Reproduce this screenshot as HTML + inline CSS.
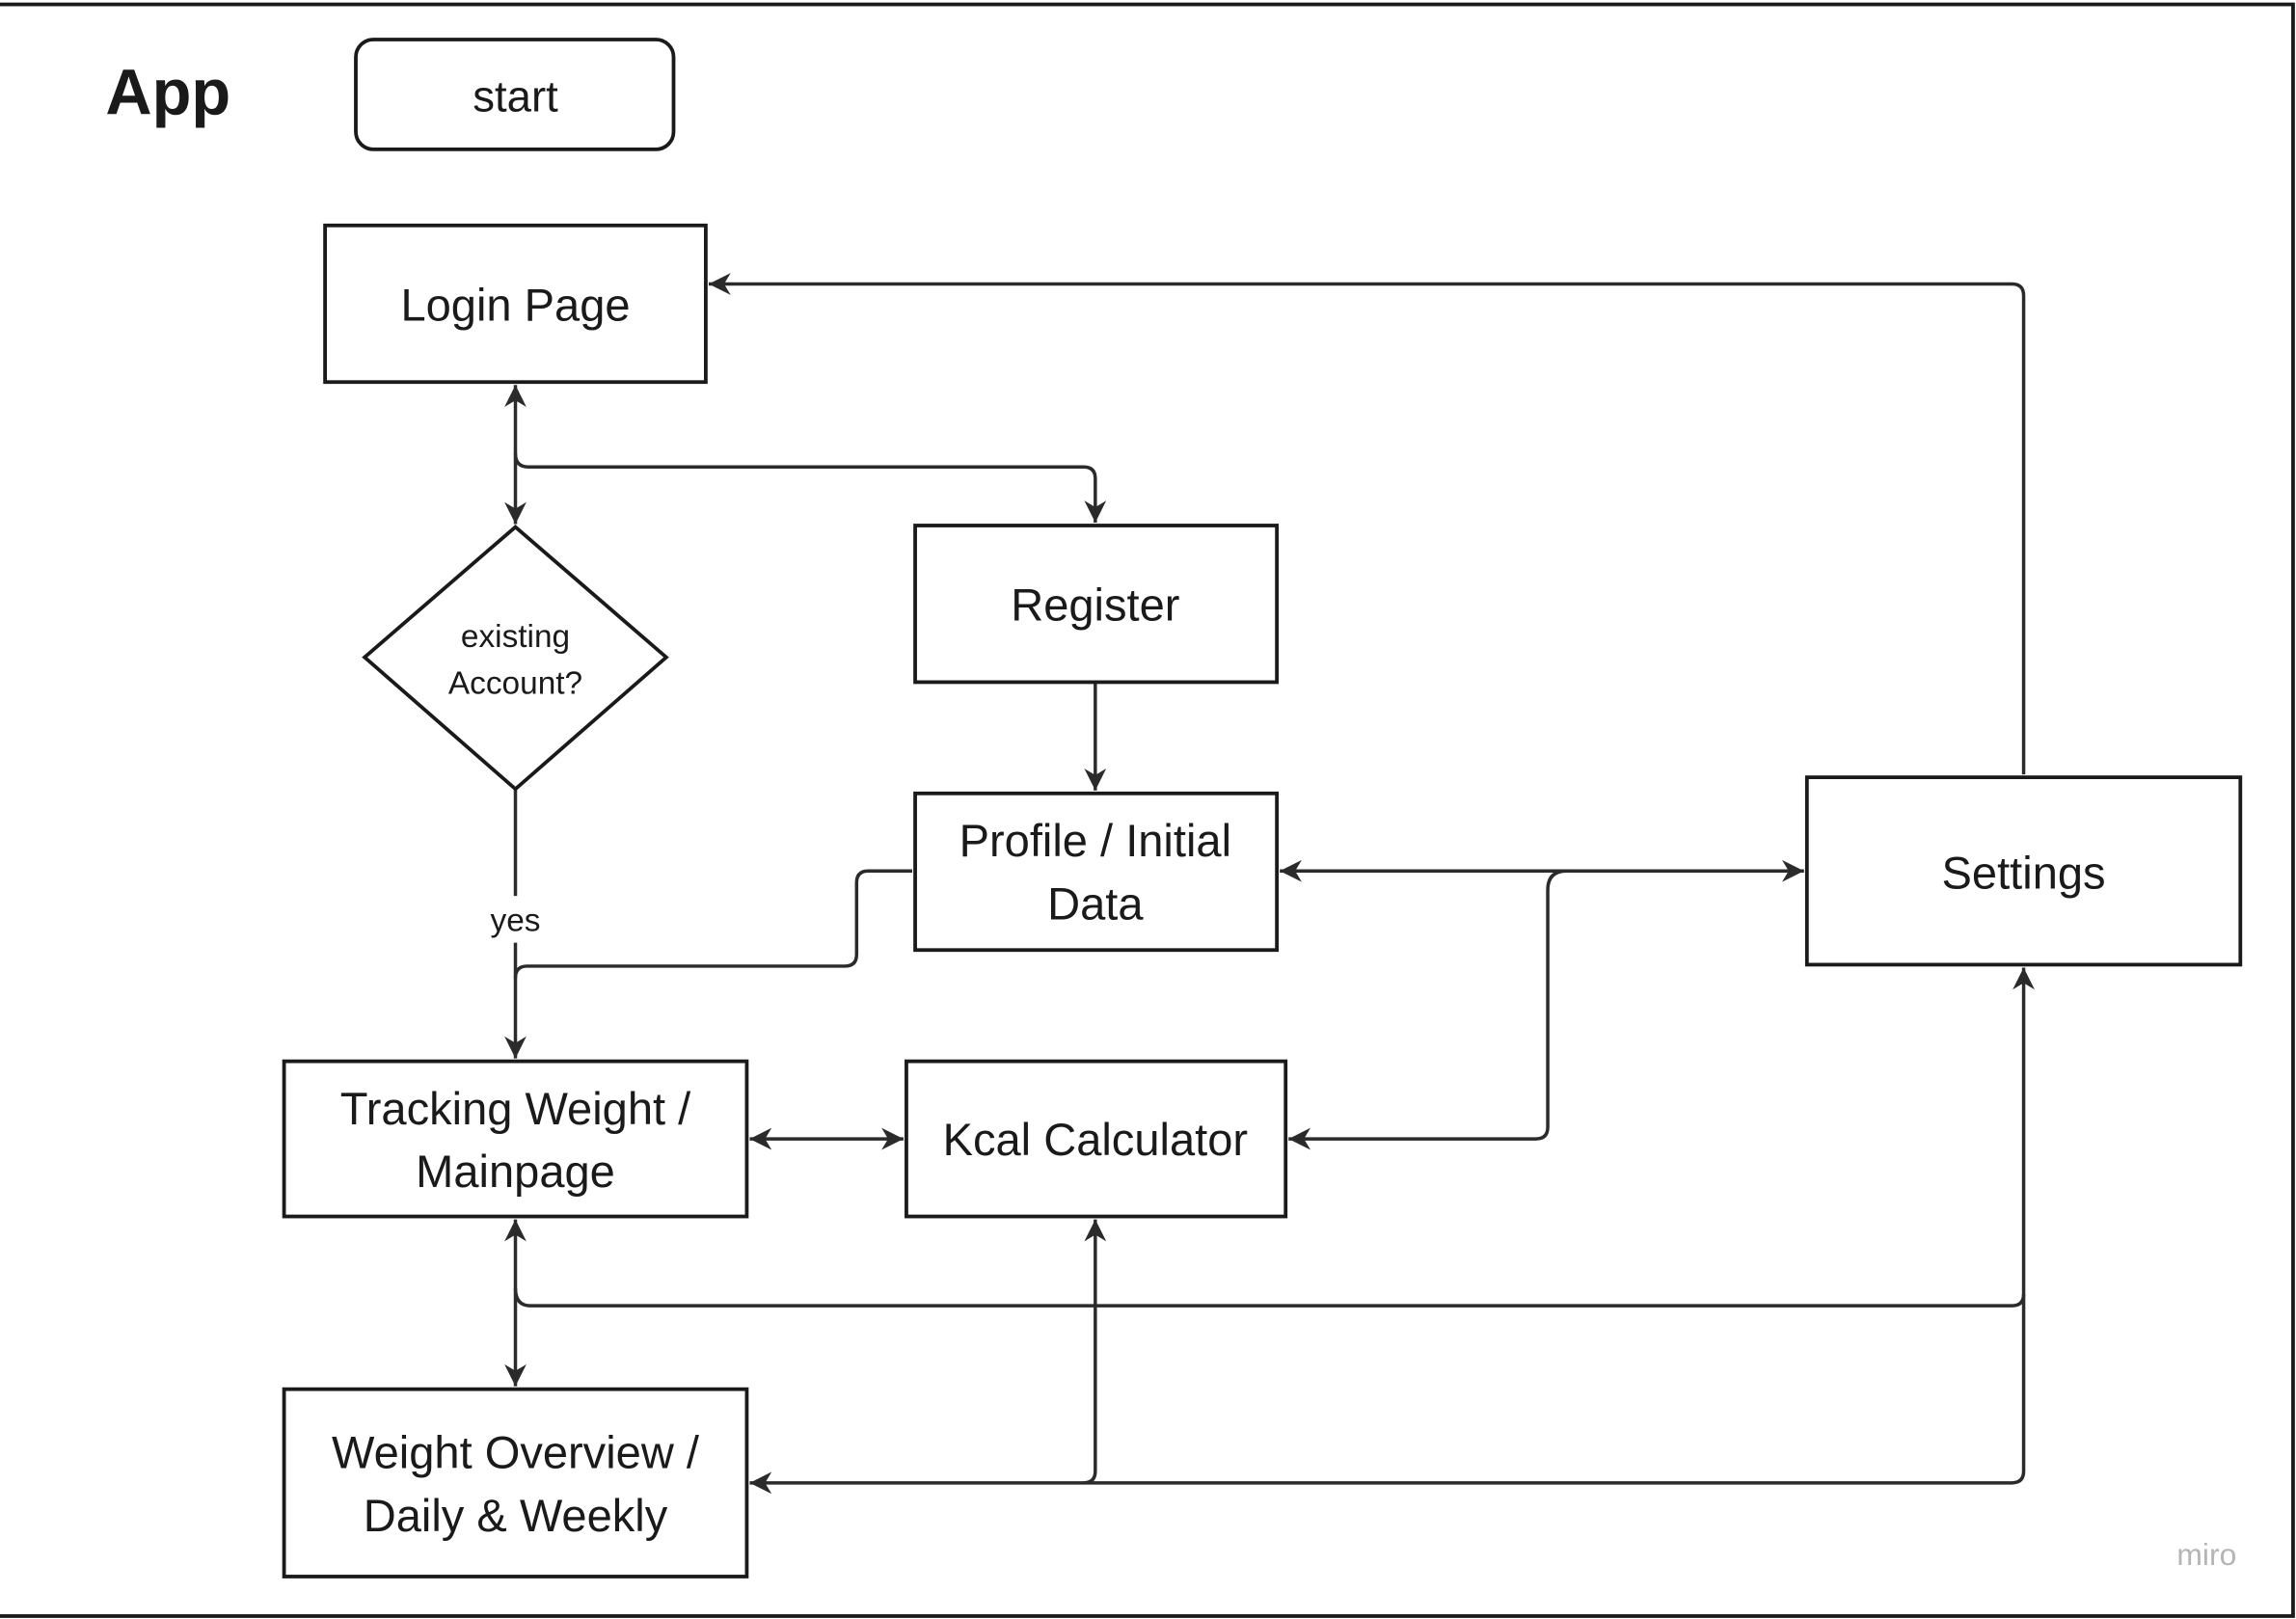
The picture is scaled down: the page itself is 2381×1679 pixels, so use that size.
<!DOCTYPE html>
<html><head><meta charset="utf-8"><style>
html,body{margin:0;padding:0;background:#fff;}
svg{display:block;}
text{font-family:"Liberation Sans","DejaVu Sans",sans-serif;fill:#1a1a1a;}
</style></head><body>
<svg width="2381" height="1679" viewBox="0 0 1568 1106" preserveAspectRatio="none" xmlns="http://www.w3.org/2000/svg">
<defs>
<marker id="a" viewBox="0 0 12 12" refX="11" refY="6" markerWidth="18" markerHeight="18" markerUnits="userSpaceOnUse" orient="auto-start-reverse">
<path d="M1,1 L11,6 L1,11 L4,6 Z" fill="#2b2b2b"/>
</marker>
</defs>
<style>.c{fill:none;stroke:#2b2b2b;stroke-width:2.3;}.b{fill:#fff;stroke:#1a1a1a;stroke-width:2.5;}</style>
<rect x="-2" y="3" width="1568" height="1101" fill="none" stroke="#1a1a1a" stroke-width="2.5"/>
<text x="72" y="78" font-size="44" font-weight="bold">App</text>
<rect x="243" y="27" width="217" height="75" rx="12" class="b"/>
<text x="352" y="76" font-size="30" text-anchor="middle">start</text>

<path class="c" d="M352,263 L352,358" marker-start="url(#a)" marker-end="url(#a)"/>
<path class="c" d="M352,310 Q352,319 361,319 L740,319 Q748,319 748,327 L748,357" marker-end="url(#a)"/>
<path class="c" d="M748,466 L748,540" marker-end="url(#a)"/>
<path class="c" d="M352,539 L352,612 M352,644 L352,723" marker-end="url(#a)"/>
<path class="c" d="M623,595 L593,595 Q585,595 585,603 L585,652 Q585,660 577,660 L360,660 Q352,660 352,668"/>
<path class="c" d="M874,595 L1232,595" marker-start="url(#a)" marker-end="url(#a)"/>
<path class="c" d="M1070,595 Q1057,595 1057,608 L1057,770 Q1057,778 1049,778 L880,778" marker-end="url(#a)"/>
<path class="c" d="M1382,529 L1382,202 Q1382,194 1374,194 L484,194" marker-end="url(#a)"/>
<path class="c" d="M512,778 L617,778" marker-start="url(#a)" marker-end="url(#a)"/>
<path class="c" d="M352,833 L352,947" marker-start="url(#a)" marker-end="url(#a)"/>
<path class="c" d="M352,880 Q352,892 362,892 L1374,892 Q1382,892 1382,884 L1382,661" marker-end="url(#a)"/>
<path class="c" d="M1382,884 L1382,1005 Q1382,1013 1374,1013 L512,1013" marker-end="url(#a)"/>
<path class="c" d="M740,1013 Q748,1013 748,1005 L748,833" marker-end="url(#a)"/>

<rect x="222" y="154" width="260" height="107" class="b"/>
<text x="352" y="219" font-size="31" text-anchor="middle">Login Page</text>
<polygon points="352,360 455,449 352,539 249,449" class="b"/>
<text x="352" y="442" font-size="22" text-anchor="middle">existing</text>
<text x="352" y="474" font-size="22" text-anchor="middle">Account?</text>
<text x="352" y="636" font-size="22" text-anchor="middle">yes</text>
<rect x="625" y="359" width="247" height="107" class="b"/>
<text x="748" y="424" font-size="31" text-anchor="middle">Register</text>
<rect x="625" y="542" width="247" height="107" class="b"/>
<text x="748" y="585" font-size="31" text-anchor="middle">Profile / Initial</text>
<text x="748" y="628" font-size="31" text-anchor="middle">Data</text>
<rect x="1234" y="531" width="296" height="128" class="b"/>
<text x="1382" y="607" font-size="31" text-anchor="middle">Settings</text>
<rect x="194" y="725" width="316" height="106" class="b"/>
<text x="352" y="768" font-size="31" text-anchor="middle">Tracking Weight /</text>
<text x="352" y="811" font-size="31" text-anchor="middle">Mainpage</text>
<rect x="619" y="725" width="259" height="106" class="b"/>
<text x="748" y="789" font-size="31" text-anchor="middle">Kcal Calculator</text>
<rect x="194" y="949" width="316" height="128" class="b"/>
<text x="352" y="1003" font-size="31" text-anchor="middle">Weight Overview /</text>
<text x="352" y="1046" font-size="31" text-anchor="middle">Daily &amp; Weekly</text>
<text x="1507" y="1069" font-size="21" text-anchor="middle" style="fill:#b5b5b5">miro</text>
</svg>
</body></html>
